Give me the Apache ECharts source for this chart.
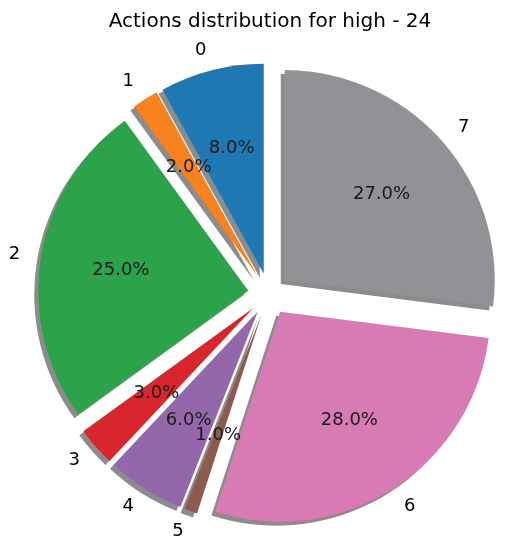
<!DOCTYPE html>
<html>
  <head>
    <meta charset="utf-8">
    <title>Actions distribution</title>
    <script src="https://cdn.jsdelivr.net/npm/echarts@6/dist/echarts.min.js"></script>
    <style>
      html, body { margin: 0; padding: 0; background: #fff; }
      #main { width: 508px; height: 550px; }
    </style>
  </head>
  <body>
    <div id="main"></div>
    <script>
      // data
      var actions = ['0', '1', '2', '3', '4', '5', '6', '7'];
      var shares = [8, 2, 25, 3, 6, 1, 28, 27];
      var colors = ['#1f77b4', '#f8821e', '#2ca24a', '#d8262e', '#9467ab', '#8f5a4e', '#d87ab4', '#929296'];

      var cx = 269, cy = 294, R = 210, explode = 21;
      var font = 'DejaVu Sans';

      var slices = actions.map(function (name, i) {
        return { name: name, value: shares[i], selected: true, itemStyle: { color: colors[i] } };
      });
      var pctSlices = actions.map(function (name, i) {
        return { name: name, value: shares[i], selected: true };
      });

      var myChart = echarts.init(document.getElementById('main'), null, { renderer: 'canvas' });
      myChart.setOption({
        animation: false,
        title: {
          text: 'Actions distribution for high - 24',
          left: 265,
          textAlign: 'center',
          top: 7,
          textStyle: { fontFamily: font, fontSize: 20, fontWeight: 'normal', color: '#000' }
        },
        series: [
          {
            type: 'pie',
            center: [cx, cy],
            radius: R,
            startAngle: 90,
            clockwise: false,
            selectedMode: 'multiple',
            selectedOffset: explode,
            avoidLabelOverlap: false,
            emphasis: { disabled: true },
            itemStyle: {
              shadowColor: 'rgba(0,0,0,0.45)',
              shadowBlur: 0,
              shadowOffsetX: -4,
              shadowOffsetY: 4
            },
            label: {
              show: true,
              position: 'outside',
              formatter: '{b}',
              fontFamily: font,
              fontSize: 18,
              color: '#000',
              distanceToLabelLine: 0
            },
            labelLine: { show: false, length: 21, length2: 0 },
            labelLayout: { hideOverlap: false },
            data: slices
          },
          {
            // transparent copy, only carries the percent labels at 0.6 R
            type: 'pie',
            center: [cx, cy],
            radius: [0, R * 1.2],
            startAngle: 90,
            clockwise: false,
            silent: true,
            selectedMode: 'multiple',
            selectedOffset: explode,
            avoidLabelOverlap: false,
            emphasis: { disabled: true },
            itemStyle: { color: 'rgba(0,0,0,0)' },
            label: {
              show: true,
              position: 'inside',
              formatter: function (p) { return p.value.toFixed(1) + '%'; },
              fontFamily: font,
              fontSize: 18,
              color: '#1a1a1a'
            },
            labelLine: { show: false },
            labelLayout: { hideOverlap: false },
            data: pctSlices
          }
        ]
      });
    </script>
  </body>
</html>
